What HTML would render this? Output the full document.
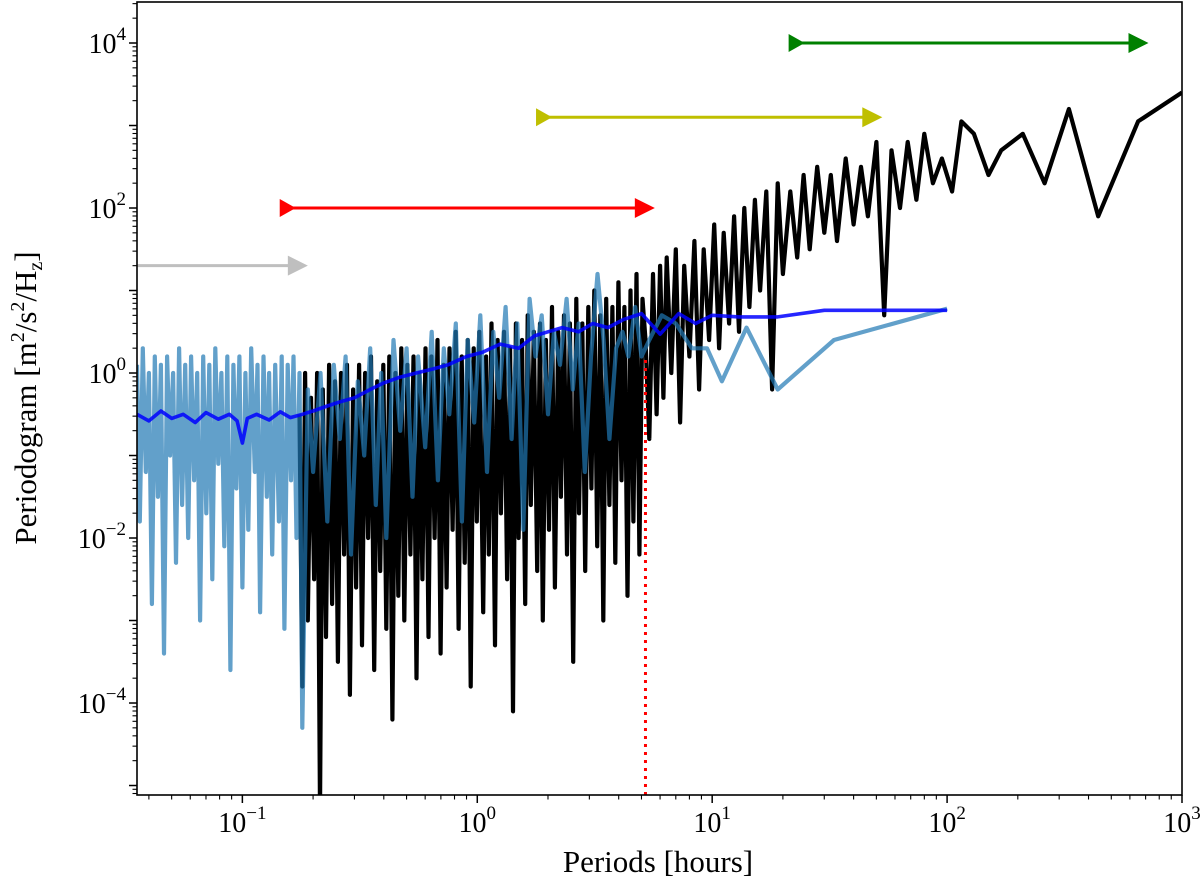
<!DOCTYPE html>
<html><head><meta charset="utf-8"><style>
html,body{margin:0;padding:0;background:#fff;}
svg{display:block;font-family:"Liberation Serif","DejaVu Serif",serif;}
</style></head><body>
<svg id="chart" width="1200" height="886" viewBox="0 0 1200 886" xmlns="http://www.w3.org/2000/svg">
<rect x="0" y="0" width="1200" height="886" fill="#fff"/>
<defs><clipPath id="plotclip"><rect x="137" y="2" width="1045" height="793"/></clipPath></defs>
<g id="marks" clip-path="url(#plotclip)"></g>
<g id="axes"></g>
</svg>
<script>
// ---- data ----
const blackP=[0.175,0.18,0.185,0.19,0.196,0.202,0.208,0.214,0.22,0.227,0.234,0.241,0.248,0.255,0.263,0.271,0.279,0.287,0.296,0.305,0.314,0.323,0.333,0.343,0.353,0.364,0.375,0.386,0.398,0.41,0.422,0.435,0.448,0.461,0.475,0.489,0.504,0.519,0.535,0.551,0.567,0.584,0.602,0.62,0.638,0.658,0.677,0.698,0.719,0.74,0.762,0.785,0.809,0.833,0.858,0.884,0.91,0.938,0.966,0.995,1.02,1.06,1.09,1.12,1.15,1.19,1.22,1.26,1.3,1.34,1.38,1.42,1.46,1.5,1.55,1.6,1.64,1.69,1.74,1.8,1.85,1.9,1.96,2.02,2.08,2.14,2.21,2.27,2.34,2.41,2.48,2.56,2.64,2.71,2.8,2.88,2.97,3.06,3.15,3.24,3.34,3.44,3.54,3.65,3.76,3.87,3.99,4.11,4.23,4.36,4.49,4.62,4.76,4.9,5.05,
5.2,5.4,5.6,5.8,6,6.2,6.4,6.7,7,7.3,7.6,8,8.4,8.8,9.2,9.7,10.2,10.7,11.2,11.8,12.4,13,13.7,14.4,15.2,16,17,18,19,20,21.5,23,24.5,26,28,30,32,34,37,40,43,46,50,54,58,63,68,74,80,87,95,105,115,130,150,170,210,260,330,440,650,1000];
const blackLog=[-0.5,-3.8,0,-3,-0.3,-2.5,0,-5.3,-0.2,-3.2,0.1,-2.8,-0.1,-3.5,0,-2.2,0.1,-3.9,-0.2,-2.6,0.1,-3.3,0,-2,0.2,-3.6,-0.1,-2.4,0.1,-3.1,0.2,-4.2,0,-2.7,0.3,-3,0.1,-2.2,0.2,-3.7,0,-2.5,0.3,-3.2,0.2,-2,0.4,-3.4,0.1,-2.6,0.3,-1.9,0.5,-3.1,0.2,-2.3,0.4,-3.8,0.3,-1.8,0.5,-2.9,0.2,-2.2,0.6,-3.3,0.4,-1.7,0.5,-2.5,0.3,-4.1,0.6,-2,0.4,-2.8,0.7,-1.6,0.5,-2.4,0.6,-3,0.4,-1.9,0.8,-2.6,0.5,-1.5,0.7,-2.2,0.6,-3.5,0.9,-1.7,0.6,-2.4,0.8,-1.4,1.0,-2.1,0.7,-3,0.9,-1.6,0.8,-2.3,1.1,-1.3,0.8,-2.7,1.0,-1.8,1.2,-2.2,0.9,
0.4,-0.8,1.2,-0.5,1.3,-0.3,1.4,0,1.5,-0.6,1.3,0.2,1.6,-0.2,1.5,0.4,1.8,0.3,1.7,0.6,1.9,0.5,2,0.8,2.1,1,2.2,-0.2,2.3,1.2,2.2,1.4,2.4,1.5,2.5,1.7,2.4,1.6,2.6,1.8,2.5,1.9,2.8,0.7,2.7,2.0,2.8,2.1,2.9,2.3,2.6,2.2,3.05,2.9,2.4,2.7,2.9,2.3,3.2,1.9,3.05,3.4];
const lightP=[0.0356,0.0366,0.0377,0.0388,0.04,0.0412,0.0424,0.0437,0.045,0.0464,0.0478,0.0492,0.0507,0.0522,0.0538,0.0554,0.0571,0.0588,0.0605,0.0623,0.0642,0.0661,0.0681,0.0702,0.0723,0.0745,0.0767,0.079,0.0814,0.0838,0.0863,0.0889,0.0916,0.0943,0.0971,0.1,0.103,0.106,0.109,0.113,0.116,0.119,0.123,0.127,0.13,0.134,0.138,0.143,0.147,0.151,0.156,0.161,0.165,0.17,0.175,
0.18,0.19,0.2,0.215,0.23,0.245,0.26,0.275,0.29,0.31,0.33,0.35,0.37,0.39,0.41,0.44,0.47,0.5,0.53,0.56,0.6,0.64,0.68,0.72,0.76,0.81,0.86,0.91,0.97,1.03,1.1,1.17,1.24,1.32,1.4,1.48,1.57,1.67,1.77,1.88,2,2.12,2.25,2.4,2.55,2.7,2.87,3.05,3.25,3.45,3.65,3.9,4.15,4.4,4.7,5,5.4,6.1,7,8.2,9.5,11,14,19,33,100];
const lightLog=[0.1,-1.8,0.3,-1.2,0,-2.8,0.2,-1.5,0.1,-3.4,0.2,-1,0,-2.3,0.3,-1.6,0.1,-2,0.2,-1.3,0,-3,0.2,-1.7,0.1,-2.5,0.3,-1.1,0,-2.1,0.2,-3.6,0.1,-1.4,0.2,-2.6,0,-1.9,0.3,-1.2,0.1,-2.9,0.2,-1.5,0,-2.2,0.1,-1.8,0.2,-3.1,0.1,-1.3,0.2,-2,0,
-4.3,-0.2,-1.2,0,-1.8,0.1,-0.8,0.2,-2.2,-0.1,-1,0.3,-1.6,0,-2,0.4,-0.7,0.3,-1.5,0.2,-0.9,0.5,-1.3,0.3,-0.5,0.6,-1.8,0.4,-0.6,0.7,-1.2,0.5,-0.3,0.8,-0.8,0.6,-1.9,0.9,0.2,0.7,-0.5,0.5,0.1,0.9,-0.2,0.6,-1.2,0.2,1.2,0.4,-0.8,0.3,0.5,0.2,0.8,0.2,0.4,0.7,0.6,0.3,0.3,-0.1,0.55,-0.2,0.4,0.78];
const blueP=[0.0356,0.04,0.045,0.05,0.056,0.063,0.07,0.079,0.088,0.095,0.1,0.105,0.115,0.13,0.145,0.16,0.18,0.2,0.23,0.26,0.3,0.35,0.4,0.47,0.55,0.65,0.75,0.9,1.05,1.25,1.5,1.75,2,2.3,2.7,3.1,3.6,4.2,5,6,7.2,8.5,10,13,19,30,100];
const blueLog=[-0.5,-0.58,-0.46,-0.55,-0.5,-0.6,-0.48,-0.56,-0.5,-0.58,-0.85,-0.55,-0.5,-0.57,-0.47,-0.54,-0.5,-0.46,-0.4,-0.35,-0.3,-0.2,-0.12,-0.05,0,0.05,0.1,0.2,0.25,0.35,0.3,0.45,0.5,0.55,0.5,0.6,0.55,0.65,0.72,0.47,0.72,0.6,0.7,0.68,0.68,0.76,0.76];
const arrowStart=[0.0356,0.15,1.85,22];
const arrowEnd=[0.19,5.7,53,720];
const arrowLevel=[20,100,1260,10000];
const arrowColor=["#bfbfbf","#ff0000","#bfbf00","#008000"];
const arrowHasStart=[false,true,true,true];
const cutPeriod=5.2;
const xTickExp=[-1,0,1,2,3];
const yTickExp=[-4,-2,0,2,4];

// ---- axes ----
const X0=137,X1=1182,Y0=2,Y1=795;
const lxMin=Math.log10(0.0356),lxMax=3.0;
const lyMin=-5.115,lyMax=4.497;
const xs=p=>X0+(Math.log10(p)-lxMin)/(lxMax-lxMin)*(X1-X0);
const ys=v=>Y1-(Math.log10(v)-lyMin)/(lyMax-lyMin)*(Y1-Y0);
const NS="http://www.w3.org/2000/svg";
const marks=document.getElementById('marks'),axes=document.getElementById('axes');
function mk(tag,parent,attrs){const e=document.createElementNS(NS,tag);for(const k in attrs)e.setAttribute(k,attrs[k]);parent.appendChild(e);return e;}
function series(P,L,color,w,op,name){
  const n=Math.min(P.length,L.length);let d='';
  for(let i=0;i<n;i++)d+=(i?'L':'M')+xs(P[i]).toFixed(1)+','+ys(Math.pow(10,L[i])).toFixed(1);
  const e=mk('path',marks,{d:d,fill:'none',stroke:color,'stroke-width':w,'stroke-opacity':op,'stroke-linejoin':'round'});
  
  
}
series(blackP,blackLog,'#000',4.2,1,'series-black');
series(lightP,lightLog,'#1f77b4',4.2,0.7,'series-light-blue');
series(blueP,blueLog,'#0000ff',3.6,0.85,'series-blue');
{const x=xs(cutPeriod);const e=mk('line',marks,{x1:x,x2:x,y1:Y1,y2:ys(1.5),stroke:'#ff0000','stroke-width':3,'stroke-dasharray':'3,5'});

}
for(let i=0;i<arrowStart.length;i++){
  const g=mk('g',marks,{});
  
  
  const x1=xs(arrowStart[i]),x2=xs(arrowEnd[i]),y=ys(arrowLevel[i]),c=arrowColor[i];
  mk('line',g,{x1:x1,x2:x2-16,y1:y,y2:y,stroke:c,'stroke-width':3});
  mk('polygon',g,{points:`${x2-20},${y-10} ${x2},${y} ${x2-20},${y+10}`,fill:c});
  if(arrowHasStart[i])mk('polygon',g,{points:`${x1-4},${y-9} ${x1+12},${y} ${x1-4},${y+9}`,fill:c});
}
mk('rect',axes,{x:X0,y:Y0,width:X1-X0,height:Y1-Y0,fill:'none',stroke:'#000','stroke-width':1.6});
for(let e=-2;e<=3;e++)for(let m=1;m<10;m++){const p=m*Math.pow(10,e);if(p<0.0356||p>1000)continue;const x=xs(p);
  mk('line',axes,{x1:x,x2:x,y1:Y1,y2:Y1+(m==1?8:4.5),stroke:'#000','stroke-width':m==1?1.5:1.1});}
xTickExp.forEach(e=>{const t=mk('text',axes,{x:xs(Math.pow(10,e)),y:832,'text-anchor':'middle','font-size':28});
  
  
  t.innerHTML='10<tspan dy="-13" font-size="19">'+(e<0?'−':'')+Math.abs(e)+'</tspan>';});
for(let e=-6;e<=4;e++)for(let m=1;m<10;m++){const v=m*Math.pow(10,e);const l=Math.log10(v);if(l<lyMin||l>lyMax)continue;const y=ys(v);
  mk('line',axes,{x1:X0,x2:X0-(m==1?8:4.5),y1:y,y2:y,stroke:'#000','stroke-width':m==1?1.5:1.1});}
yTickExp.forEach(e=>{const t=mk('text',axes,{x:126,y:ys(Math.pow(10,e))+10,'text-anchor':'end','font-size':28});
  
  
  t.innerHTML='10<tspan dy="-13" font-size="19">'+(e<0?'−':'')+Math.abs(e)+'</tspan>';});
</script>
<svg style="position:absolute;left:0;top:0" width="1200" height="886">
<text x="658" y="872" text-anchor="middle" font-size="31" font-family="Liberation Serif,serif">Periods [hours]</text>
<text transform="translate(36,398) rotate(-90)" text-anchor="middle" font-size="31" font-family="Liberation Serif,serif">Periodogram [m<tspan dy="-12" font-size="20">2</tspan><tspan dy="12">/s</tspan><tspan dy="-12" font-size="20">2</tspan><tspan dy="12">/H</tspan><tspan dy="6" font-size="20">z</tspan><tspan dy="-6">]</tspan></text>
</svg>
</body></html>
